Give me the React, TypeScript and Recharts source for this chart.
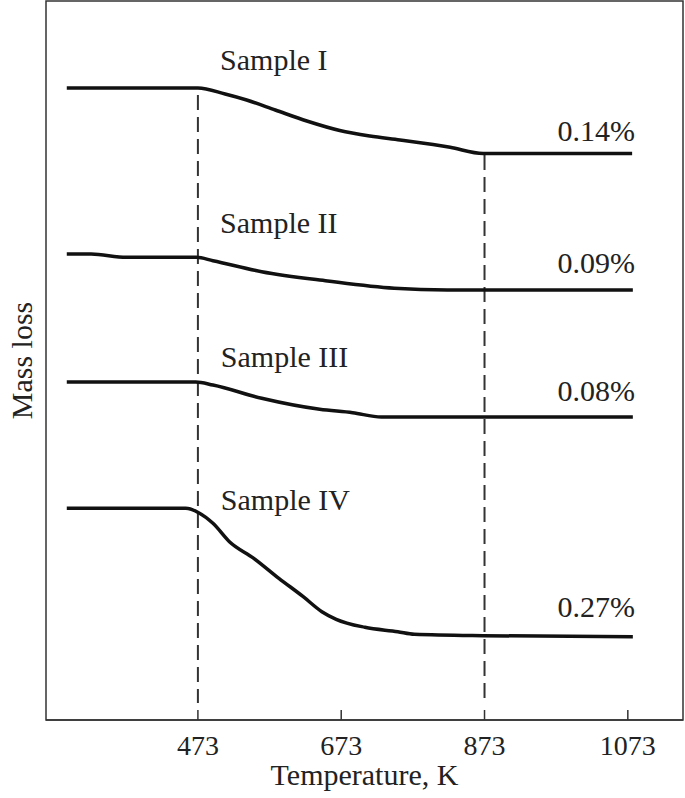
import React from 'react';
import { LineChart, Line, XAxis, YAxis, ReferenceLine, ReferenceArea, ReferenceDot } from 'recharts';

// Temperature ticks (K)
const tempTicks = [473, 673, 873, 1073];

// Curves: temperature (K) and relative mass (arbitrary units, offset per sample)
const sample1Temp = [290, 473, 511, 541, 581, 625, 671, 713, 755, 825, 871, 1079];
const sample1Mass = [632, 632, 626, 620, 610, 599, 589.5, 584, 580, 572.7, 566.5, 566.5];

const sample2Temp = [290, 324, 373, 471, 494, 562, 654, 747, 821, 1080];
const sample2Mass = [466, 466, 462.7, 462.7, 459.3, 448.3, 439, 431.7, 430, 430];

const sample3Temp = [290, 470, 494, 562, 643, 689, 729, 1080];
const sample3Mass = [338, 338, 335, 321.7, 310.7, 307.3, 303, 303];

const sample4Temp = [290, 456, 474, 494, 517, 551, 586, 620, 646, 666, 706, 752, 775, 871, 1080];
const sample4Mass = [211.7, 211.7, 207.3, 196.7, 178.3, 161.7, 141.7, 123.3, 108.3, 100.7, 92.7, 88.3, 85.7, 84.3, 83.3];

// Annotations
const sampleNames = ['Sample I', 'Sample II', 'Sample III', 'Sample IV'];
const nameTemp = [504, 504, 505, 505];
const nameMass = [650, 487, 353, 210];

const lossLabels = ['0.14%', '0.09%', '0.08%', '0.27%'];
const lossTemp = [1083, 1083, 1083, 1083];
const lossMass = [579, 447, 319, 103];

// Dashed guide temperatures and their vertical extents
const guideTemp = [473, 873];
const guideTop = [625, 565];
const guideBottom = [17, 17];

const build = (t: number[], m: number[]) => t.map((v, i) => ({ t: v, m: m[i] }));
const series = [
  build(sample1Temp, sample1Mass),
  build(sample2Temp, sample2Mass),
  build(sample3Temp, sample3Mass),
  build(sample4Temp, sample4Mass),
];

const FONT = '"Liberation Serif", "Times New Roman", serif';
const INK = '#222';

const textShape = (text: string, anchor: 'start' | 'end') => (props: any) => (
  <text x={props.cx} y={props.cy} textAnchor={anchor} fontFamily={FONT} fontSize={30} fill={INK}>
    {text}
  </text>
);

export default function App() {
  return (
    <div style={{ position: 'absolute', left: 0, top: 0, background: '#fff' }}>
      <LineChart width={685} height={798} margin={{ top: 1, right: 2, left: 0, bottom: 8 }}>
        <XAxis
          type="number"
          dataKey="t"
          domain={[261, 1150]}
          allowDataOverflow
          ticks={tempTicks}
          interval={0}
          height={70}
          tickSize={-10}
          tickMargin={25}
          axisLine={{ stroke: '#333', strokeWidth: 1.5 }}
          tickLine={{ stroke: '#333', strokeWidth: 1.5 }}
          tick={{ fontSize: 28, fill: INK, fontFamily: FONT }}
          label={{ value: 'Temperature, K', position: 'insideBottom', offset: 5, fontSize: 30, fill: INK, fontFamily: FONT }}
        />
        <YAxis
          type="number"
          domain={[0, 719]}
          allowDataOverflow
          width={46}
          axisLine={false}
          tickLine={false}
          tick={false}
          label={{
            content: (p: any) => {
              const vb = p.viewBox || { x: 0, y: 0, width: 46, height: 719 };
              const cx = vb.x + vb.width / 2 - 2;
              const cy = vb.y + vb.height / 2;
              return (
                <text
                  x={cx}
                  y={cy}
                  transform={`rotate(-90, ${cx}, ${cy})`}
                  textAnchor="middle"
                  dominantBaseline="central"
                  fontFamily={FONT}
                  fontSize={30}
                  fill={INK}
                >
                  Mass loss
                </text>
              );
            },
          }}
        />
        <ReferenceArea x1={261} x2={1150} y1={0} y2={719} fill="none" stroke="#333" strokeWidth={1.5} />
        {guideTemp.map((g, i) => (
          <ReferenceLine
            key={'g' + i}
            segment={[{ x: g, y: guideTop[i] }, { x: g, y: guideBottom[i] }]}
            stroke="#333"
            strokeWidth={2}
            strokeDasharray="15 7"
          />
        ))}
        {series.map((d, i) => (
          <Line
            key={'s' + i}
            data={d}
            dataKey="m"
            type="monotone"
            stroke="#111"
            strokeWidth={3.5}
            dot={false}
            isAnimationActive={false}
          />
        ))}
        {sampleNames.map((n, i) => (
          <ReferenceDot key={'n' + i} x={nameTemp[i]} y={nameMass[i]} r={0} shape={textShape(n, 'start')} />
        ))}
        {lossLabels.map((n, i) => (
          <ReferenceDot key={'l' + i} x={lossTemp[i]} y={lossMass[i]} r={0} shape={textShape(n, 'end')} />
        ))}
      </LineChart>
    </div>
  );
}
